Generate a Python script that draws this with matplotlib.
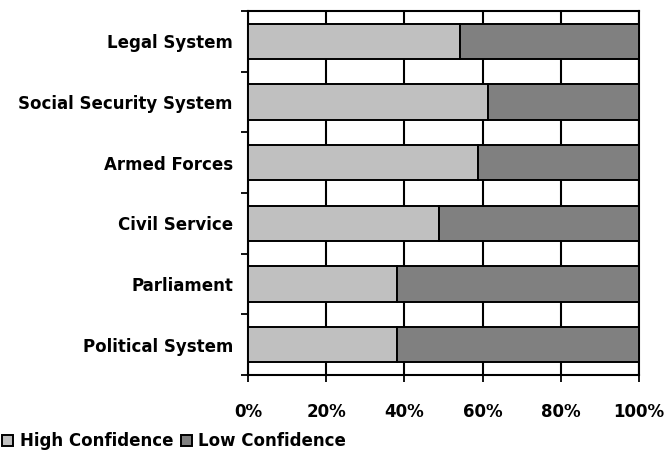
import matplotlib
matplotlib.use("Agg")
import matplotlib.pyplot as plt
import numpy as np

categories = ["Legal System", "Social Security System", "Armed Forces",
              "Civil Service", "Parliament", "Political System"]
high_conf = [54.1, 61.4, 58.7, 48.9, 38.1, 38.1]
low_conf = [100 - v for v in high_conf]
x_ticks = [0, 20, 40, 60, 80, 100]
x_labels = ["0%", "20%", "40%", "60%", "80%", "100%"]

plt.rcParams["font.family"] = ["DejaVu Sans"]
plt.rcParams["font.weight"] = "bold"

fig = plt.figure(figsize=(6.72, 4.53), dpi=100)
ax = fig.add_axes([248 / 672, 1 - 375 / 453, 391 / 672, 364 / 453])

n = len(categories)
y = np.arange(n)[::-1]  # first category at the top

ax.barh(y, high_conf, height=0.58, color="#C0C0C0", edgecolor="black",
        linewidth=1.4, label="High Confidence", zorder=3)
ax.barh(y, low_conf, left=high_conf, height=0.58, color="#808080",
        edgecolor="black", linewidth=1.4, label="Low Confidence", zorder=3)

ax.set_xlim(0, 100)
ax.set_ylim(-0.5, n - 0.5)
ax.set_xticks(x_ticks)
ax.set_xticklabels(x_labels, fontsize=12, fontweight="bold")
ax.xaxis.grid(True, color="black", linewidth=1.5, zorder=0)
ax.set_axisbelow(True)

# category labels at bar centers, tick marks at category boundaries
ax.set_yticks(np.arange(-0.5, n, 1.0))
ax.set_yticklabels([])
ax.set_yticks(y, minor=True)
ax.set_yticklabels(categories, minor=True, fontsize=12, fontweight="bold")
ax.tick_params(axis="y", which="major", length=5, width=1.3, direction="out")
ax.tick_params(axis="y", which="minor", length=0, pad=10.8)
ax.tick_params(axis="x", length=5, width=1.3, direction="out", pad=15.5)

for s in ax.spines.values():
    s.set_linewidth(1.5)
    s.set_color("black")

fig.legend(loc="center left", bbox_to_anchor=(2 / 672, 1 - 441 / 453), ncol=2,
           frameon=False, handlelength=0.66, handleheight=0.66,
           handletextpad=0.42, columnspacing=0.42, borderpad=0,
           borderaxespad=0, prop={"size": 12, "weight": "bold"})

fig.savefig("out.png", dpi=100, facecolor="white")
